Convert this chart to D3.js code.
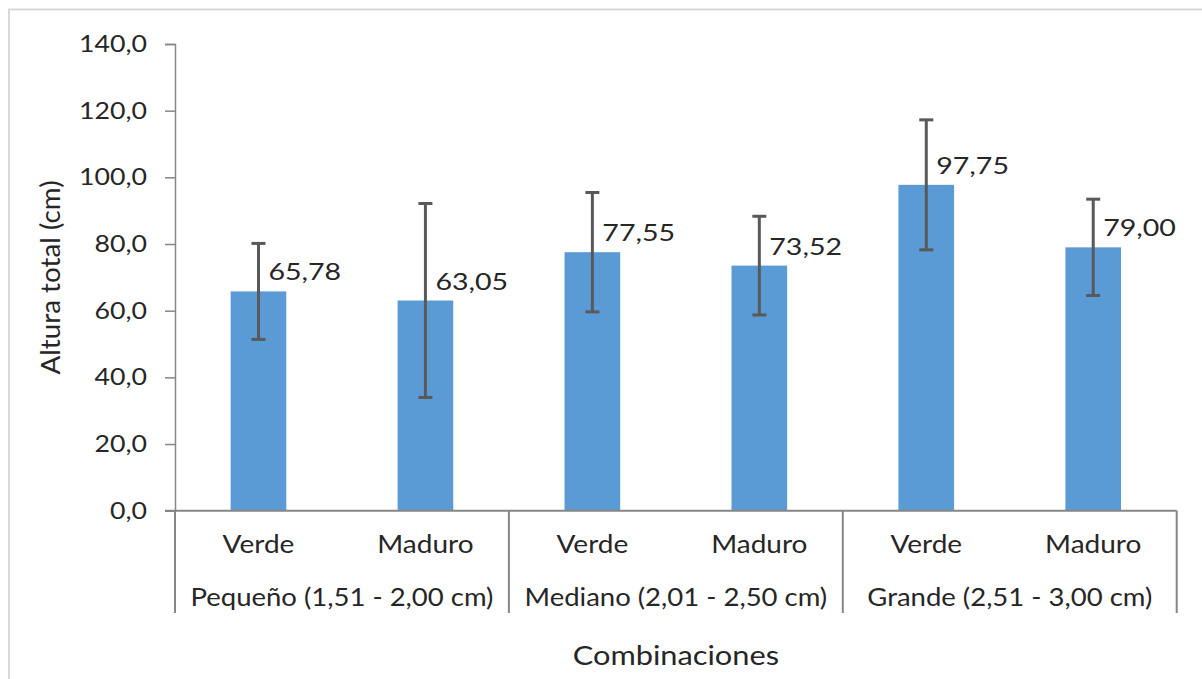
<!DOCTYPE html>
<html>
<head>
<meta charset="utf-8">
<script src="https://cdn.jsdelivr.net/npm/d3@7"></script>
<style>
  html, body { margin: 0; padding: 0; background: #fff; }
  svg { display: block; }
  text { font-family: Lato, "Open Sans", sans-serif; fill: #262626; }
</style>
</head>
<body>
<svg id="chart" width="1202" height="679"></svg>
<script>
// ---- data ----
const groups = ["Pequeño (1,51 - 2,00 cm)", "Mediano (2,01 - 2,50 cm)", "Grande (2,51 - 3,00 cm)"];
const subcategories = ["Verde", "Maduro"];
const means = [65.78, 63.05, 77.55, 73.52, 97.75, 79.00];
const errors = [14.4, 29.1, 17.9, 14.8, 19.5, 14.45];
const valueLabels = ["65,78", "63,05", "77,55", "73,52", "97,75", "79,00"];
const yTicks = [0, 20, 40, 60, 80, 100, 120, 140];
const yTitle = "Altura total (cm)";
const xTitle = "Combinaciones";

// ---- layout ----
const W = 1202, H = 679;
const plot = { left: 175, right: 1176.7, top: 44, bottom: 510.7 };
const svg = d3.select("#chart");

// horizontal stretch of text around its anchor point
function stretch(sel, sx) {
  sel.each(function () {
    const t = d3.select(this);
    const tx = +t.attr("x") || 0, ty = +t.attr("y") || 0;
    t.attr("transform", `translate(${tx},${ty}) scale(${sx},1) translate(${-tx},${-ty})`);
  });
}

// frame
svg.append("path")
  .attr("d", `M9,${H + 2} L9,9.5 L${W + 2},9.5`)
  .attr("fill", "none").attr("stroke", "#d9d9d9").attr("stroke-width", 2);

const rows = [];
groups.forEach((g, gi) => subcategories.forEach((s, si) => {
  const i = gi * subcategories.length + si;
  rows.push({ key: g + "|" + s, group: g, sub: s, mean: means[i], err: errors[i], label: valueLabels[i] });
}));

const x = d3.scaleBand().domain(rows.map(d => d.key)).range([plot.left, plot.right]).paddingInner(2 / 3).paddingOuter(1 / 3);
const xGroup = d3.scaleBand().domain(groups).range([plot.left, plot.right]);
const y = d3.scaleLinear().domain([0, 140]).range([plot.bottom, plot.top]);

const axisColor = "#868686";

// y axis
const yAxis = svg.append("g").attr("transform", `translate(${plot.left},0)`)
  .call(d3.axisLeft(y).tickValues(yTicks).tickSize(10).tickPadding(18)
    .tickFormat(d => d3.format(".1f")(d).replace(".", ",")));
yAxis.select(".domain").attr("stroke", axisColor).attr("stroke-width", 1.5);
yAxis.selectAll(".tick line").attr("stroke", axisColor).attr("stroke-width", 1.5);
const tickTexts = yAxis.selectAll(".tick text").attr("font-size", 23).attr("fill", "#262626")
  .style("font-family", "Lato, sans-serif");
stretch(tickTexts, 1.16);

// bars
svg.append("g").selectAll("rect").data(rows).join("rect")
  .attr("x", d => x(d.key)).attr("width", x.bandwidth())
  .attr("y", d => y(d.mean)).attr("height", d => y(0) - y(d.mean))
  .attr("fill", "#5b9bd5");

// error bars
const eb = svg.append("g").attr("stroke", "#595959").attr("stroke-width", 3).attr("fill", "none");
rows.forEach(d => {
  const cx = x(d.key) + x.bandwidth() / 2;
  eb.append("line").attr("x1", cx).attr("x2", cx).attr("y1", y(d.mean + d.err)).attr("y2", y(d.mean - d.err));
  [d.mean + d.err, d.mean - d.err].forEach(v => {
    eb.append("line").attr("x1", cx - 7).attr("x2", cx + 7).attr("y1", y(v)).attr("y2", y(v));
  });
});

// value labels
const vl = svg.append("g").selectAll("text").data(rows).join("text")
  .attr("x", d => x(d.key) + x.bandwidth() / 2 + 10)
  .attr("y", d => y(d.mean) - 11)
  .attr("font-size", 24)
  .text(d => d.label);
stretch(vl, 1.19);

// x axis line and category separators
const xa = svg.append("g").attr("stroke", axisColor).attr("stroke-width", 2);
xa.append("line").attr("x1", plot.left - 10).attr("x2", plot.right).attr("y1", plot.bottom).attr("y2", plot.bottom);
const sepBottom = 613;
[...groups.map(g => xGroup(g)), plot.right].forEach(sx => {
  xa.append("line").attr("x1", sx).attr("x2", sx).attr("y1", plot.bottom).attr("y2", sepBottom);
});

// sub category labels
const sl = svg.append("g").selectAll("text").data(rows).join("text")
  .attr("x", d => x(d.key) + x.bandwidth() / 2)
  .attr("y", 553)
  .attr("text-anchor", "middle")
  .attr("font-size", 25)
  .text(d => d.sub);
stretch(sl, 1.12);

// group labels
const gl = svg.append("g").selectAll("text").data(groups).join("text")
  .attr("x", d => xGroup(d) + xGroup.bandwidth() / 2)
  .attr("y", 606)
  .attr("text-anchor", "middle")
  .attr("font-size", 25)
  .text(d => d);
stretch(gl, 1.10);

// axis titles
const xt = svg.append("text")
  .attr("x", (plot.left + plot.right) / 2).attr("y", 665)
  .attr("text-anchor", "middle").attr("font-size", 27)
  .text(xTitle);
stretch(xt, 1.14);
svg.append("text")
  .attr("transform", `translate(60,${277.5}) rotate(-90) scale(1.03,1)`)
  .attr("text-anchor", "middle").attr("font-size", 27)
  .text(yTitle);
</script>
</body>
</html>
